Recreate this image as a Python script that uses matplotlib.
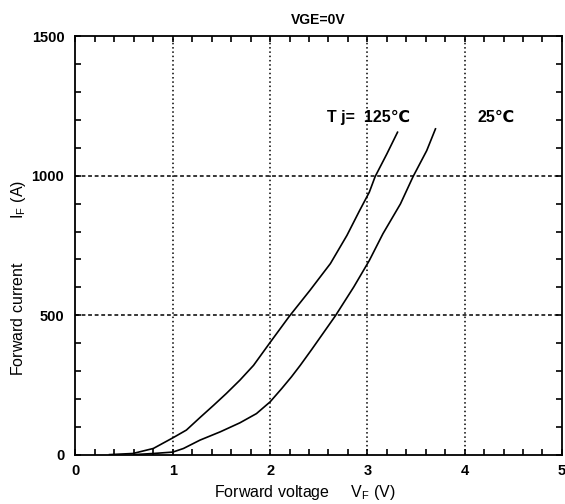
import numpy as np
import matplotlib.pyplot as plt
from matplotlib.ticker import MultipleLocator

vf_125 = [0.35, 0.59, 0.80, 1.0, 1.14, 1.28, 1.42, 1.55, 1.69, 1.83, 2.0, 2.2, 2.41, 2.62,
          2.79, 2.92, 3.02, 3.08, 3.20, 3.31]
if_125 = [0, 4, 22, 60, 88, 133, 177, 219, 267, 320, 402, 497, 589, 685,
          786, 875, 941, 997, 1078, 1156]

vf_25 = [0.6, 0.8, 1.0, 1.11, 1.28, 1.49, 1.69, 1.86, 2.0, 2.12, 2.22, 2.31, 2.43, 2.67,
         2.86, 3.02, 3.16, 3.34, 3.47, 3.61, 3.70]
if_25 = [0, 4, 9, 22, 52, 82, 114, 147, 189, 237, 279, 320, 378, 497,
         601, 696, 792, 899, 997, 1090, 1168]

x_ticks = [0, 1, 2, 3, 4, 5]
y_ticks = [0, 500, 1000, 1500]

bold_font = ['Liberation Sans', 'DejaVu Sans']
tick_font = dict(family=bold_font, weight='bold', size=10.5)
label_font = dict(family='Liberation Sans', size=11.5)

fig = plt.figure(figsize=(5.65, 5.04), dpi=100)
ax = fig.add_axes([0.1336, 0.098, 0.861, 0.830])

ax.plot(vf_125, if_125, color='black', lw=1.2)
ax.plot(vf_25, if_25, color='black', lw=1.2)

ax.set_xlim(0, 5)
ax.set_ylim(0, 1500)
ax.set_xticks(x_ticks)
ax.set_yticks(y_ticks)
ax.xaxis.set_minor_locator(MultipleLocator(0.2))
ax.yaxis.set_minor_locator(MultipleLocator(100))
ax.tick_params(which='both', direction='in', top=True, right=True, width=1.2,
               length=4, color='black')
ax.tick_params(axis='x', which='major', pad=7)
ax.tick_params(axis='y', which='major', pad=8)
for lab in ax.get_xticklabels() + ax.get_yticklabels():
    lab.set(**tick_font)

# rejilla punteada
for v in [1, 2, 3, 4]:
    ax.axvline(v, color='black', lw=1.1, ls=(0, (1, 1.8)))
for i in [500, 1000]:
    ax.axhline(i, color='black', lw=1.1, ls=(0, (2.5, 1.8)))

for s in ax.spines.values():
    s.set_linewidth(1.3)

ax.text(2.59, 1210, 'T j=  125\u2103', fontsize=11.5, fontweight='bold', va='center',
        ha='left', family=bold_font)
ax.text(4.13, 1210, '25\u2103', fontsize=11.5, fontweight='bold', va='center',
        ha='left', family=bold_font)

ax.set_title('VGE=0V', fontsize=10, fontweight='bold', family=bold_font, pad=9)
ax.set_xlabel('Forward voltage     V$_\\mathregular{F}$ (V)', **label_font)
ax.set_ylabel('Forward current          I$_\\mathregular{F}$ (A)', **label_font)
ax.xaxis.set_label_coords(0.472, -0.068)
ax.yaxis.set_label_coords(-0.098, 0.423)

fig.savefig('out.png', dpi=100)
